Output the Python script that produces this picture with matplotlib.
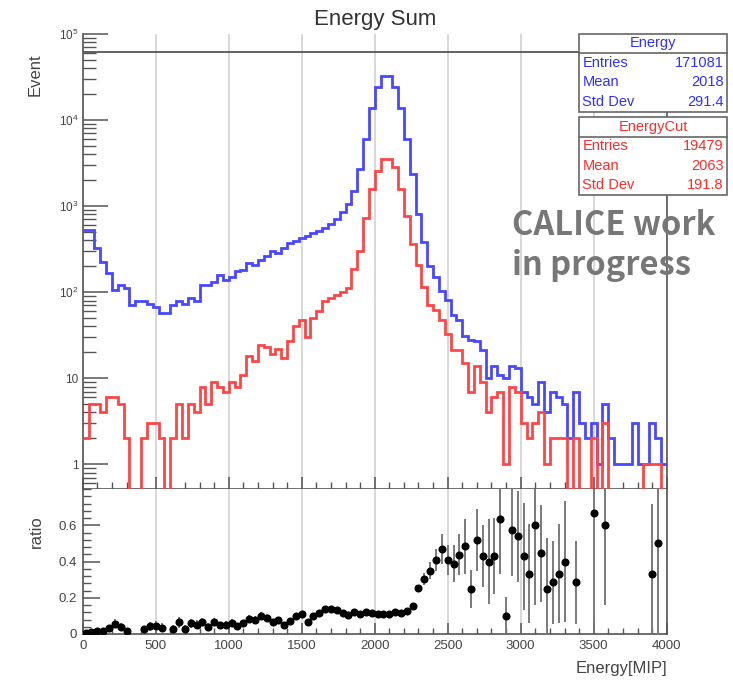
import numpy as np
import matplotlib
matplotlib.use("Agg")
import matplotlib.pyplot as plt
from matplotlib.patches import Rectangle
from matplotlib.lines import Line2D
from matplotlib.ticker import FixedLocator, MultipleLocator, LogLocator, NullFormatter

plt.rcParams["font.family"] = ["Liberation Sans", "DejaVu Sans"]
plt.rcParams["mathtext.fontset"] = "custom"
plt.rcParams["mathtext.rm"] = "Liberation Sans"

# 100 bins of 40 MIP between 0 and 4000
edges = np.linspace(0, 4000, 101)

energy = [
    530, 530, 330, 227, 169, 105, 122, 112, 71, 78,
    78, 72, 68, 58, 58, 71, 78, 72, 86, 78,
    122, 122, 133, 159, 139, 150, 174, 182, 217, 208,
    238, 260, 297, 283, 325, 372, 395, 430, 455, 490,
    520, 560, 620, 700, 850, 1050, 1500, 2700, 6100, 13700,
    24000, 32500, 32500, 24000, 13700, 6000, 2350, 815, 380, 200,
    152, 102, 81, 54, 48, 31, 28, 27, 21, 10,
    14, 11, 10, 14, 13, 7, 6, 5, 9, 4,
    7, 6, 5, 2, 7, 3, 2, 3, 1, 5,
    2, 1, 1, 1, 3, 1, 1, 3, 2, 1,
]

energy_cut = [
    2, 5, 5, 4, 6, 6, 5, 2, 0, 0,
    2, 3, 3, 2, 0, 2, 5, 2, 5, 4,
    8, 5, 9, 8, 7, 9, 8, 11, 18, 16,
    24, 23, 19, 22, 17, 27, 40, 48, 30, 50,
    60, 78, 85, 93, 100, 111, 185, 300, 736, 1570,
    2590, 3500, 3500, 2870, 1570, 777, 360, 205, 115, 70,
    62, 48, 33, 21, 21, 15, 7, 14, 9, 4,
    6, 7, 1, 8, 7, 3, 2, 3, 4, 1,
    2, 2, 2, 0, 2, 0, 0, 2, 0, 3,
    0, 0, 0, 0, 0, 0, 1, 1, 1, 0,
]

stats_energy = [("Entries", "171081"), ("Mean", "2018"), ("Std Dev", "291.4")]
stats_cut = [("Entries", "19479"), ("Mean", "2063"), ("Std Dev", "191.8")]

blue = "#4848ff"
red = "#ff4646"
axis_col = "#555555"
grid_col = "#d2d2d2"

energy = np.array(energy, dtype=float)
energy_cut = np.array(energy_cut, dtype=float)
centers = 0.5 * (edges[1:] + edges[:-1])

W, H = 733, 681
fig = plt.figure(figsize=(W / 100, H / 100), dpi=100)


def fx(px):
    return px / W


def fy(py):
    return 1 - py / H


ax = fig.add_axes([fx(82.7), fy(489), fx(666.7) - fx(82.7), fy(34) - fy(489)])
axr = fig.add_axes([fx(82.7), fy(634), fx(666.7) - fx(82.7), fy(489) - fy(634)])

# --- upper panel ---
ax.set_yscale("log")
ax.stairs(np.where(energy > 0, energy, 1e-3), edges, baseline=None, color=blue, lw=2, zorder=3)
ax.stairs(np.where(energy_cut > 0, energy_cut, 1e-3), edges, baseline=None, color=red, lw=2, zorder=3)
ax.set_xlim(0, 4000)
ax.set_ylim(0.516, 1e5)
ax.axhline(10 ** 4.79, color=axis_col, lw=1.3, zorder=4)
ax.spines["top"].set_visible(False)
for s in ["left", "bottom", "right"]:
    ax.spines[s].set_color(axis_col)
    ax.spines[s].set_linewidth(1.2)

ax.yaxis.set_major_locator(FixedLocator([1, 10, 100, 1e3, 1e4, 1e5]))
ax.set_yticklabels(["1", "10", "10$^{2}$", "10$^{3}$", "10$^{4}$", "10$^{5}$"])
ax.yaxis.set_minor_locator(LogLocator(base=10, subs=np.arange(2, 10)))
ax.yaxis.set_minor_formatter(NullFormatter())
ax.tick_params(axis="y", which="major", direction="in", length=18, width=1.1,
               color=axis_col, labelsize=8.5, labelcolor="#444444", pad=3)
ax.tick_params(axis="y", which="minor", direction="in", length=9, width=1.0, color=axis_col)
ax.tick_params(axis="y", right=False)
ax.xaxis.set_major_locator(MultipleLocator(500))
ax.xaxis.set_minor_locator(MultipleLocator(100))
ax.tick_params(axis="x", which="major", direction="in", length=9, width=1.1,
               color=axis_col, labelbottom=False)
ax.tick_params(axis="x", which="minor", direction="in", length=5, width=1.0, color=axis_col)
ax.grid(axis="x", which="major", color=grid_col, lw=1.2, zorder=0)

# --- ratio panel ---
ratio = np.divide(energy_cut, energy, out=np.zeros_like(energy), where=energy > 0)
ok = (energy_cut > 0) & (ratio < 0.8)
err = np.zeros_like(ratio)
err[ok] = ratio[ok] * np.sqrt(1 / energy_cut[ok] + 1 / energy[ok])
axr.errorbar(centers[ok], ratio[ok], yerr=err[ok], fmt="o", color="black",
             ecolor="#7a7a7a", elinewidth=1.4, markersize=4.8, capsize=0, zorder=3)
axr.set_xlim(0, 4000)
axr.set_ylim(0, 0.8)
for s in ["left", "bottom", "right", "top"]:
    axr.spines[s].set_color(axis_col)
    axr.spines[s].set_linewidth(1.2)
axr.spines["top"].set_visible(False)
axr.yaxis.set_major_locator(FixedLocator([0, 0.2, 0.4, 0.6]))
axr.set_yticklabels(["0", "0.2", "0.4", "0.6"])
axr.yaxis.set_minor_locator(MultipleLocator(0.04))
axr.xaxis.set_major_locator(MultipleLocator(500))
axr.xaxis.set_minor_locator(MultipleLocator(100))
axr.tick_params(axis="both", which="major", direction="in", length=12, width=1.1,
                color=axis_col, labelsize=9.5, labelcolor="#444444", pad=4)
axr.tick_params(axis="both", which="minor", direction="in", length=6, width=1.0, color=axis_col)
axr.tick_params(axis="x", which="major", length=8)
axr.tick_params(axis="x", which="minor", length=4)
axr.grid(axis="x", which="major", color=grid_col, lw=1.2, zorder=0)

# --- labels ---
fig.text(fx(375), fy(20), "Energy Sum", ha="center", va="center", fontsize=16, color="#333333")
fig.text(fx(35), fy(75), "Event", ha="center", va="center", rotation=90, fontsize=12, color="#444444")
fig.text(fx(36), fy(532), "ratio", ha="center", va="center", rotation=90, fontsize=12, color="#444444")
fig.text(fx(667), fy(669), "Energy[MIP]", ha="right", va="center", fontsize=12, color="#444444")


# --- stat boxes ---
def stats_box(top, bottom, sep, title, rows, color):
    x0, x1 = 579.3, 726.7
    fig.add_artist(Rectangle((fx(x0), fy(bottom)), fx(x1) - fx(x0), fy(top) - fy(bottom),
                             transform=fig.transFigure, facecolor="white",
                             edgecolor="#666666", lw=1.2, zorder=5))
    fig.add_artist(Line2D([fx(x0), fx(x1)], [fy(sep), fy(sep)], transform=fig.transFigure,
                          color="#666666", lw=1.2, zorder=6))
    fig.text(fx((x0 + x1) / 2), fy((top + sep) / 2), title, ha="center", va="center",
             fontsize=10.5, color=color, zorder=7)
    step = (bottom - sep) / len(rows)
    for i, (name, val) in enumerate(rows):
        yc = sep + step * (i + 0.5)
        fig.text(fx(x0 + 3), fy(yc), name, ha="left", va="center", fontsize=10.5, color=color, zorder=7)
        fig.text(fx(x1 - 3), fy(yc), val, ha="right", va="center", fontsize=10.5, color=color, zorder=7)


stats_box(34.3, 111.7, 52.7, "Energy", stats_energy, "#3030ff")
stats_box(116.7, 195, 136.7, "EnergyCut", stats_cut, "#ff2a2a")

fig.text(fx(511.7), fy(235), "CALICE work", ha="left", va="baseline", fontsize=23.5,
         fontweight="bold", color="#777777", family=["Noto Sans CJK JP", "DejaVu Sans"])
fig.text(fx(511.7), fy(275), "in progress", ha="left", va="baseline", fontsize=23.5,
         fontweight="bold", color="#777777", family=["Noto Sans CJK JP", "DejaVu Sans"])

fig.savefig("out.png", dpi=100)
